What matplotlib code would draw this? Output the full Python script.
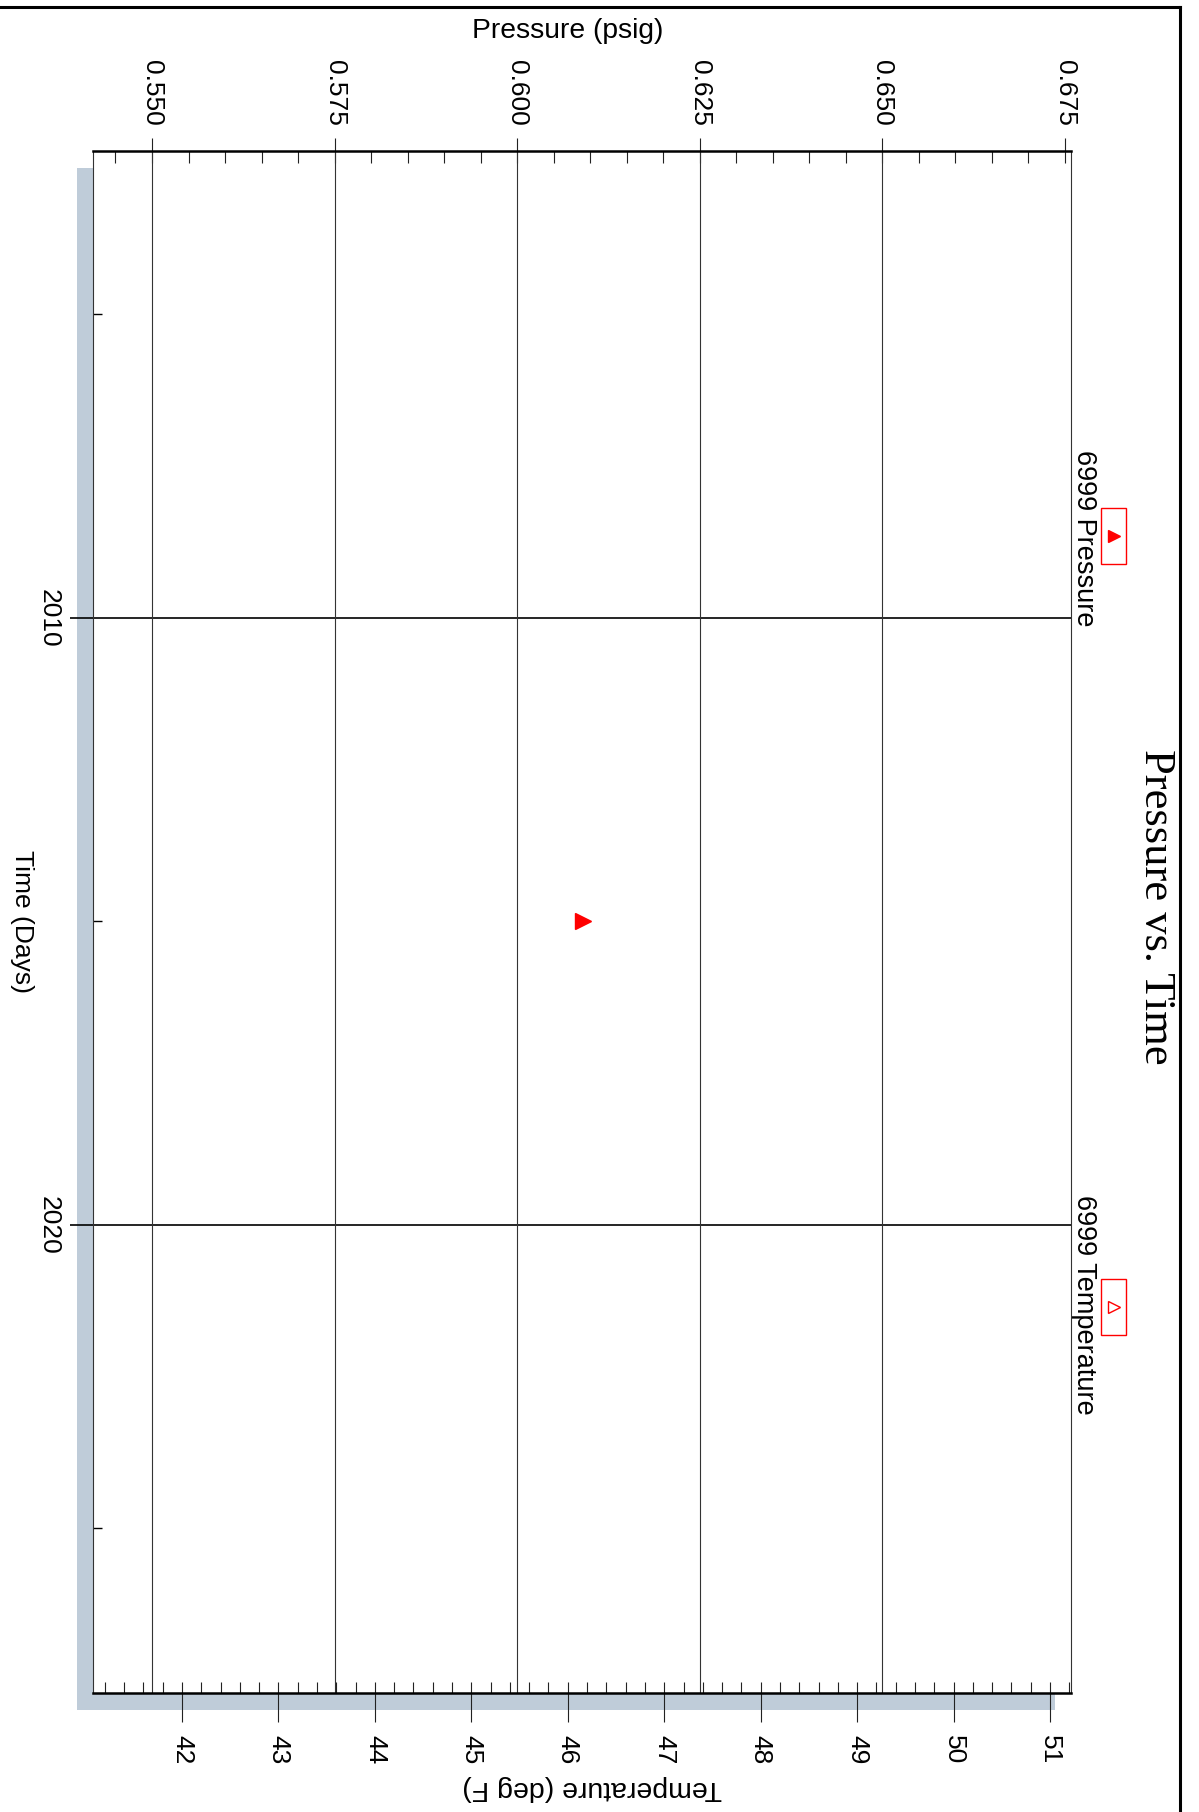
import matplotlib
matplotlib.use('Agg')
import matplotlib.pyplot as plt
from matplotlib.patches import Rectangle
from matplotlib.lines import Line2D
from matplotlib.ticker import MultipleLocator, FixedLocator, FormatStrFormatter

# data
time_days = [2015]
pressure_psig = [0.609]
temperature_degF = []
series_names = ['6999 Pressure', '6999 Temperature']
pressure_ticks = [0.550, 0.575, 0.600, 0.625, 0.650, 0.675]
temperature_ticks = [42, 43, 44, 45, 46, 47, 48, 49, 50, 51]
time_ticks = [2010, 2020]
time_minor = [2005, 2015, 2025]

W, H = 1199, 1812
plt.rcParams['font.family'] = ['Liberation Sans', 'DejaVu Sans']
plt.rcParams['font.size'] = 19

fig = plt.figure(figsize=(W / 100, H / 100), dpi=100)
fig.patch.set_facecolor('white')


def fx(x):
    return x / W


def fy(y):
    return 1 - y / H


# plot box in pixels
L, R, T, B = 93, 1071, 151, 1693
ax = fig.add_axes([fx(L), fy(B), fx(R - L), (B - T) / H])
ax.set_facecolor('white')

# drop shadow
fig.add_artist(Rectangle((fx(L - 16), fy(B + 17)), fx(R - L), (B - T) / H,
                         transform=fig.transFigure, facecolor='#bfccd9',
                         edgecolor='none', zorder=-1))

ax2 = ax.twiny()
ax.xaxis.tick_top()
ax.xaxis.set_label_position('top')
ax2.xaxis.tick_bottom()

# pressure axis (top)
ax.set_xlim(0.54192, 0.67582)
ax.xaxis.set_major_locator(FixedLocator(pressure_ticks))
ax.xaxis.set_major_formatter(FormatStrFormatter('%.3f'))
ax.xaxis.set_minor_locator(MultipleLocator(0.005))
ax.xaxis.remove_overlapping_locs = False
ax.tick_params(axis='x', which='major', direction='out', length=9.4, width=0.8,
               pad=9, labelrotation=-90, color='#222222')
ax.tick_params(axis='x', which='minor', direction='in', length=8.6, width=0.8,
               color='#222222')

# time axis (left)
ax.set_ylim(2027.71, 2002.31)
ax.yaxis.set_major_locator(FixedLocator(time_ticks))
ax.yaxis.set_minor_locator(FixedLocator(time_minor))
ax.tick_params(axis='y', which='major', direction='out', length=16.6, width=1.2,
               pad=7, labelrotation=-90, color='black')
ax.tick_params(axis='y', which='minor', direction='in', length=6.5, width=1.0,
               color='black')
for lab in ax.get_yticklabels():
    lab.set_verticalalignment('center')

# temperature axis (bottom)
ax2.set_xlim(41.077, 51.218)
ax2.xaxis.set_major_locator(FixedLocator(temperature_ticks))
ax2.xaxis.set_minor_locator(MultipleLocator(0.2))
ax2.xaxis.remove_overlapping_locs = False
ax2.tick_params(axis='x', which='major', direction='out', length=20.9, width=0.8,
                pad=9, labelrotation=-90, color='#222222')
ax2.tick_params(axis='x', which='minor', direction='in', length=7.9, width=0.8,
                color='#222222')

# grid: pressure lines stop short of the last tick (0.675)
for p in pressure_ticks[:-1]:
    ax.axvline(p, color='#333333', lw=0.8, zorder=1)
ax.grid(axis='y', which='major', color='black', lw=1.2)
ax.set_axisbelow(True)

# spines
for s in ['left', 'right']:
    ax.spines[s].set_linewidth(0.8)
    ax.spines[s].set_color('#333333')
ax.spines['top'].set_linewidth(1.8)
ax.spines['bottom'].set_visible(False)
for s in ['top', 'left', 'right']:
    ax2.spines[s].set_visible(False)
ax2.spines['bottom'].set_linewidth(1.8)

# data
ax.plot(pressure_psig, time_days, linestyle='none', marker='>', color='red',
        markersize=12, zorder=5, clip_on=False)
if temperature_degF:
    ax2.plot(temperature_degF, time_days, linestyle='none', marker='>',
             markerfacecolor='none', markeredgecolor='red')

# axis labels and title
fig.text(fx(568), fy(31), 'Pressure (psig)', ha='center', va='center', fontsize=20.3)
fig.text(fx(22), fy(921), 'Time (Days)', ha='center', va='center', rotation=-90)
fig.text(fx(592), fy(1788), 'Temperature (deg F)', ha='center', va='center',
         rotation=180, fontsize=20.5)
fig.text(fx(1156), fy(907), 'Pressure vs. Time', ha='center', va='center',
         rotation=-90, fontsize=32, family=['Liberation Serif', 'DejaVu Serif'])

# legend drawn by hand
leg_items = [(series_names[0], 450, 536, 'red'), (series_names[1], 1195, 1307, 'none')]
for name, ytext, ymark, fc in leg_items:
    fig.text(fx(1084), fy(ytext), name, ha='center', va='top', rotation=-90,
             fontsize=19.5)
    fig.add_artist(Rectangle((fx(1101), fy(ymark + 28)), fx(25), 56 / H,
                             transform=fig.transFigure, fill=False,
                             edgecolor='red', lw=1.0))
    fig.add_artist(Line2D([fx(1114)], [fy(ymark)], transform=fig.transFigure,
                          marker='>', markersize=9, markerfacecolor=fc,
                          markeredgecolor='red', markeredgewidth=1.0,
                          linestyle='none'))

# outer frame (partly cut off)
fig.add_artist(Line2D([0, fx(1180)], [fy(7), fy(7)], transform=fig.transFigure,
                      color='black', lw=2.2))
fig.add_artist(Line2D([fx(1180), fx(1180)], [fy(7), 0], transform=fig.transFigure,
                      color='black', lw=2.2))

fig.savefig('out.png', dpi=100)
